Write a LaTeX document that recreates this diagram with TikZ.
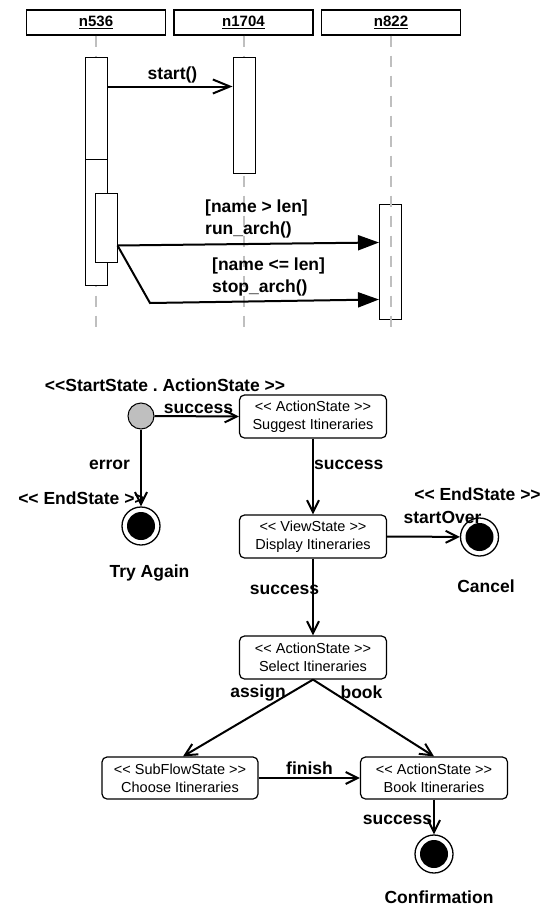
\documentclass[tikz,border=0pt]{standalone}
\usepackage{fontspec}
\setmainfont{Liberation Sans}
\usetikzlibrary{arrows.meta}
\frenchspacing

\tikzset{
  lbl/.style={inner sep=0pt, font=\fontsize{17.5}{22}\selectfont\bfseries},
  lifeline/.style={draw=gray!50, line width=2pt, dash pattern=on 11pt off 9pt},
  msg/.style={line width=2pt, -{Straight Barb[length=17pt,width=14pt]}},
  call/.style={line width=2pt, -{Triangle[length=21pt,width=15pt]}},
  startstate/.style={circle, draw, fill=gray!50, line width=1pt, minimum size=26pt, inner sep=0pt},
  endstate/.style={circle, draw, line width=1.3pt, minimum size=38pt, inner sep=0pt,
    path picture={\fill (path picture bounding box.center) circle (14pt);}}
}

\begin{document}
\begin{tikzpicture}[x=1pt,y=-1pt]
  \useasboundingbox (0,0) rectangle (559,907);

  % sequence diagram
  \begin{scope}[every node/.style={draw, line width=1.2pt, minimum width=139pt, minimum height=25pt,
      inner sep=0pt, font=\fontsize{15}{18}\selectfont\bfseries}]
    \node (n536)  at (96,22.5)    {\underline{n536}};
    \node (n1704) at (243.5,22.5) {\underline{n1704}};
    \node (n822)  at (391,22.5)   {\underline{n822}};
  \end{scope}

  \coordinate (end536)  at (96,327);
  \coordinate (end1704) at (243.5,327);
  \coordinate (end822)  at (391,327);

  \draw[lifeline] (n536.south)  -- (end536);
  \draw[lifeline] (n1704.south) -- (end1704);

  \begin{scope}[every node/.style={draw, fill=white, line width=1pt, minimum width=22pt, inner sep=0pt}]
    \node[minimum height=115pt] (act536a) at (96,115.5)   {};
    \node[minimum height=126pt] (act536b) at (96,222)     {};
    \node[minimum height=69pt]  (act536c) at (106,227.5)  {};
    \node[minimum height=115pt] (act1704) at (244,115.5)  {};
    \node[minimum height=115pt, fill=none] (act822) at (390.5,261.5) {};
  \end{scope}

  \draw[lifeline] (n822.south) -- (end822);

  \coordinate (bend) at (150,303);
  \draw[msg]  ([yshift=-29pt]act536a.north east) -- ([yshift=-29pt]act1704.north west);
  \draw[call] ([yshift=-53pt]act536c.north east) -- ([yshift=-39pt]act822.north west);
  \draw[call] ([yshift=-53pt]act536c.north east) -- (bend) -- ([yshift=-96pt]act822.north west);

  \begin{scope}[every node/.style={lbl}]
    \node (startmsg) at (172.5,75) {start()};
    \node[align=left, anchor=west] (runmsg)  at (205,219) {[name > len]\\run\_arch()};
    \node[align=left, anchor=west] (stopmsg) at (212,277) {[name <= len]\\stop\_arch()};
  \end{scope}

  % state diagram
  \begin{scope}[every node/.style={draw, rounded corners=5pt, line width=1.2pt, minimum width=147pt,
      minimum height=43pt, inner sep=0pt, align=center, font=\fontsize{14.5}{18}\selectfont}]
    \node (suggest) at (313,416.5) {<{}< ActionState >{}>\\Suggest Itineraries};
    \node (display) at (313,536.5) {<{}< ViewState >{}>\\Display Itineraries};
    \node (select)  at (313,657.5) {<{}< ActionState >{}>\\Select Itineraries};
    \node[minimum width=156pt, minimum height=42pt] (choose) at (180,778) {<{}< SubFlowState >{}>\\Choose Itineraries};
    \node[minimum height=42pt] (book) at (434,778) {<{}< ActionState >{}>\\Book Itineraries};
  \end{scope}

  \node[startstate] (start)    at (141,416)   {};
  \node[endstate]   (tryagain) at (141,526)   {};
  \node[endstate]   (cancel)   at (479.5,537) {};
  \node[endstate]   (confirm)  at (434,854)   {};

  \begin{scope}[every edge/.style={draw, line width=2pt, -{Straight Barb[length=12pt,width=12pt]}}]
    \path (start.east)   edge (suggest.west);
    \path (start)        edge (tryagain);
    \path (suggest)      edge (display);
    \path (display.east) edge (cancel);
    \path (display)      edge (select);
    \path (select.south) edge ([xshift=3pt]choose.north);
    \path (select.south) edge (book.north);
    \path (choose)       edge (book);
    \path (book)         edge (confirm);
  \end{scope}

  \begin{scope}[every node/.style={lbl}]
    \node (stereostart) at (165,385)   {<{}<StartState . ActionState >{}>};
    \node (succ1)       at (198.5,409) {success};
    \node (err)         at (109.5,465) {error};
    \node (stereoend1)  at (81.5,498)  {<{}< EndState >{}>};
    \node (trylbl)      at (149.5,573) {Try Again};
    \node[anchor=west] (succ2) at (314,465) {success};
    \node (stereoend2)  at (477.5,494) {<{}< EndState >{}>};
    \node (over)        at (442.5,517) {startOver};
    \node (cancellbl)   at (486,586)   {Cancel};
    \node (succ3)       at (284.5,590) {success};
    \node (assign)      at (258,693)   {assign};
    \node (booklbl)     at (361.5,692) {book};
    \node (fin)         at (309.5,768) {finish};
    \node (succ4)       at (397.5,820) {success};
    \node (conflbl)     at (439,897)   {Confirmation};
  \end{scope}

\end{tikzpicture}
\end{document}
